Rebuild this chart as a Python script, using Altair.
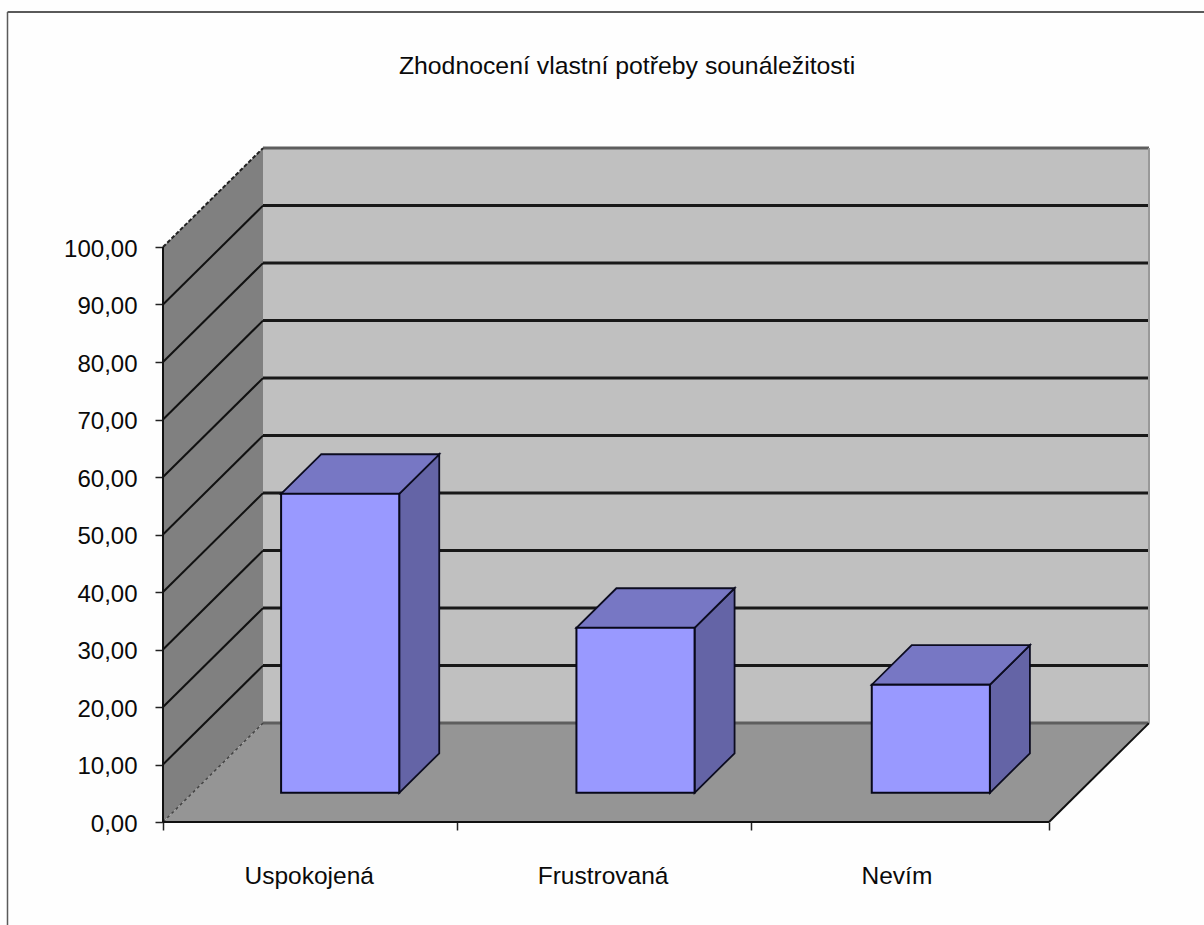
import altair as alt
import pandas as pd

# Chart content
TITLE = "Zhodnocení vlastní potřeby sounáležitosti"
categories = ["Uspokojená", "Frustrovaná", "Nevím"]
values = [52.0, 28.7, 18.8]
y_ticks = [0, 10, 20, 30, 40, 50, 60, 70, 80, 90, 100]
x_ticks = [0, 0.996, 1.99, 3]
label_slots = [0.495, 1.49, 2.485]

FONT = "Liberation Sans"

# Oblique projection: how far the back plane sits from the front plane, in axis units
DEPTH_X = 0.3386
DEPTH_Y = 17.2
BAR_WIDTH = 0.4
BAR_NEAR, BAR_FAR = 0.295, 0.695
N = len(categories)
TOP = y_ticks[-1]

x_scale = alt.Scale(domain=[0, N], nice=False, zero=False)
y_scale = alt.Scale(domain=[0, TOP], nice=False, zero=False)

x_axis = alt.Axis(
    title=None, values=x_ticks, labels=False, grid=False, domain=False,
    tickSize=8, tickColor="#222222", tickWidth=1.5,
)
y_axis = alt.Axis(
    title=None, values=y_ticks, grid=False, domain=False,
    tickSize=8, tickColor="#222222", tickWidth=1.5,
    labelFont=FONT, labelFontSize=24, labelColor="#0A0A0A", labelPadding=18,
    labelOffset=2,
    labelExpr="replace(format(datum.value, '.2f'), '.', ',')",
)


def X():
    return alt.X("x:Q", scale=x_scale, axis=x_axis)


def Y():
    return alt.Y("y:Q", scale=y_scale, axis=y_axis)


def face_vertical(rows, color, stroke=None, width=1.5):
    """Parallelogram whose left and right edges are upright."""
    kw = dict(stroke=stroke, strokeWidth=width) if stroke else {}
    return alt.Chart(pd.DataFrame(rows)).mark_area(
        orient="vertical", color=color, clip=False, **kw
    ).encode(x=X(), y=Y(), y2="y2:Q", detail="k:N")


def face_horizontal(rows, color, stroke=None, width=1.5):
    """Parallelogram whose top and bottom edges are level."""
    kw = dict(stroke=stroke, strokeWidth=width) if stroke else {}
    return alt.Chart(pd.DataFrame(rows)).mark_area(
        orient="horizontal", color=color, clip=False, **kw
    ).encode(y=Y(), x=X(), x2="x2:Q", detail="k:N")


def segments(rows, color, width, **kw):
    return alt.Chart(pd.DataFrame(rows)).mark_line(
        color=color, strokeWidth=width, clip=False, **kw
    ).encode(x=X(), y=Y(), detail="k:N", order="o:Q")


# Walls and floor
back_wall = alt.Chart(pd.DataFrame([{
    "x": DEPTH_X, "x2": N + DEPTH_X, "y": DEPTH_Y, "y2": TOP + DEPTH_Y
}])).mark_rect(color="#C0C0C0", clip=False).encode(
    x=X(), x2="x2:Q", y=Y(), y2="y2:Q"
)
side_wall = face_vertical(
    [{"k": "w", "x": 0, "y": 0, "y2": TOP},
     {"k": "w", "x": DEPTH_X, "y": DEPTH_Y, "y2": TOP + DEPTH_Y}],
    "#808080",
)
floor = face_horizontal(
    [{"k": "f", "y": 0, "x": 0, "x2": N},
     {"k": "f", "y": DEPTH_Y, "x": DEPTH_X, "x2": N + DEPTH_X}],
    "#959595",
)

# Gridlines run along the side wall and across the back wall
inner = [v for v in y_ticks if 0 < v < TOP]
back_lines, side_lines = [], []
for v in inner:
    back_lines += [{"k": v, "o": 0, "x": DEPTH_X, "y": v + DEPTH_Y},
                   {"k": v, "o": 1, "x": N + DEPTH_X, "y": v + DEPTH_Y}]
    side_lines += [{"k": v, "o": 0, "x": 0, "y": v},
                   {"k": v, "o": 1, "x": DEPTH_X, "y": v + DEPTH_Y}]
grid_back = segments(back_lines, "#181818", 3)
grid_side = segments(side_lines, "#111111", 2)

# Outer edges of the box
edge_soft = segments(
    [{"k": "top", "o": 0, "x": DEPTH_X, "y": TOP + DEPTH_Y},
     {"k": "top", "o": 1, "x": N + DEPTH_X, "y": TOP + DEPTH_Y},
     {"k": "base", "o": 0, "x": DEPTH_X, "y": DEPTH_Y},
     {"k": "base", "o": 1, "x": N + DEPTH_X, "y": DEPTH_Y}],
    "#5E5E5E", 3,
)
edge_right = segments(
    [{"k": "r", "o": 0, "x": N + DEPTH_X, "y": DEPTH_Y},
     {"k": "r", "o": 1, "x": N + DEPTH_X, "y": TOP + DEPTH_Y}],
    "#999999", 2,
)
edge_dark = segments(
    [{"k": "c", "o": 0, "x": N, "y": 0},
     {"k": "c", "o": 1, "x": N + DEPTH_X, "y": DEPTH_Y},
     {"k": "d", "o": 0, "x": 0, "y": 0},
     {"k": "d", "o": 1, "x": N, "y": 0},
     {"k": "e", "o": 0, "x": 0, "y": 0},
     {"k": "e", "o": 1, "x": 0, "y": TOP}],
    "#111111", 2,
)
edge_top_diag = segments(
    [{"k": "a", "o": 0, "x": 0, "y": TOP},
     {"k": "a", "o": 1, "x": DEPTH_X, "y": TOP + DEPTH_Y}],
    "#222222", 2, strokeDash=[4, 2],
)
edge_dotted = segments(
    [{"k": "b", "o": 0, "x": 0, "y": 0},
     {"k": "b", "o": 1, "x": DEPTH_X, "y": DEPTH_Y}],
    "#444444", 1.5, strokeDash=[3, 3],
)

# Bars: front, top and right faces
fronts, tops, sides = [], [], []
for i, (name, v) in enumerate(zip(categories, values)):
    left = i + (1 - BAR_WIDTH) / 2
    right = left + BAR_WIDTH
    nx, ny = BAR_NEAR * DEPTH_X, BAR_NEAR * DEPTH_Y
    fx, fy = BAR_FAR * DEPTH_X, BAR_FAR * DEPTH_Y
    fronts.append({"k": name, "x": left + nx, "x2": right + nx, "y": ny, "y2": ny + v})
    tops += [{"k": name, "y": ny + v, "x": left + nx, "x2": right + nx},
             {"k": name, "y": fy + v, "x": left + fx, "x2": right + fx}]
    sides += [{"k": name, "x": right + nx, "y": ny, "y2": ny + v},
              {"k": name, "x": right + fx, "y": fy, "y2": fy + v}]

bar_side = face_vertical(sides, "#6464A6", stroke="#0C0C20", width=1.8)
bar_top = face_horizontal(tops, "#7777C4", stroke="#0C0C20", width=1.8)
bar_front = alt.Chart(pd.DataFrame(fronts)).mark_rect(
    color="#9999FF", stroke="#08081A", strokeWidth=2, clip=False
).encode(x=X(), x2="x2:Q", y=Y(), y2="y2:Q")

# Category names sit in the middle of each slot below the floor
cat_labels = alt.Chart(pd.DataFrame({
    "label": categories, "x": label_slots
})).mark_text(
    font=FONT, fontSize=24.5, color="#0A0A0A", baseline="middle", align="center"
).encode(x=X(), y=alt.value(630), text="label:N")

# Heading, placed above the box
heading = alt.Chart(pd.DataFrame({"label": [TITLE]})).mark_text(
    font=FONT, fontSize=24.8, color="#0A0A0A", baseline="middle", align="center"
).encode(x=alt.value(627 - 163), y=alt.value(67 - 247), text="label:N")

# Outer frame of the chart area (only the top and left edges are visible)
frame_left = alt.Chart(pd.DataFrame({"a": [0]})).mark_rule(
    color="#5A5A5A", strokeWidth=1.5
).encode(x=alt.value(7.5 - 163), y=alt.value(12 - 247), y2=alt.value(925 - 247))
frame_top = alt.Chart(pd.DataFrame({"a": [0]})).mark_rule(
    color="#5A5A5A", strokeWidth=2
).encode(x=alt.value(7.5 - 163), x2=alt.value(1204 - 163), y=alt.value(12 - 247))

chart = alt.layer(
    frame_left, frame_top,
    back_wall, side_wall, floor,
    grid_back, grid_side,
    edge_soft, edge_right, edge_dotted, edge_top_diag, edge_dark,
    bar_side, bar_top, bar_front,
    cat_labels, heading,
).properties(
    width=886,
    height=575,
    background="#FEFEFE",
    padding={"left": 163, "top": 247, "right": 155, "bottom": 103},
    autosize=alt.AutoSizeParams(type="none"),
).configure_view(stroke=None)

chart.save("out.html", embed_options={"renderer": "svg", "actions": False})
